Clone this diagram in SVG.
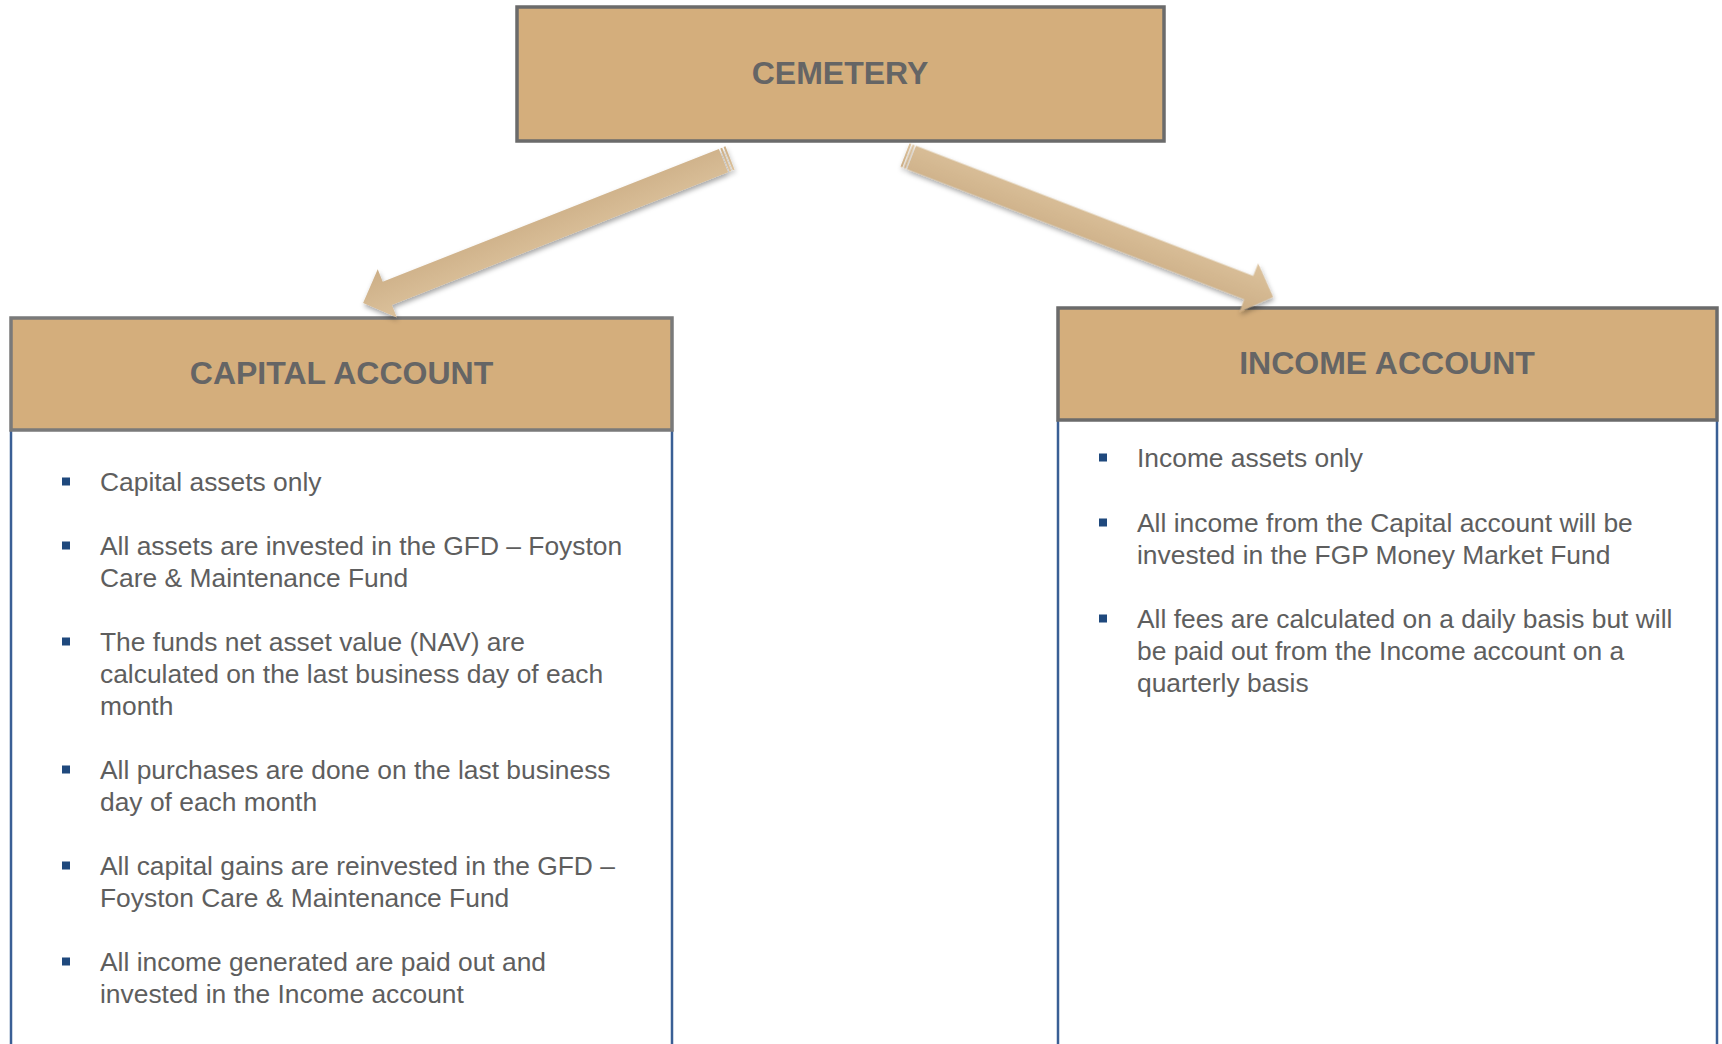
<svg xmlns="http://www.w3.org/2000/svg" width="1722" height="1044" viewBox="0 0 1722 1044">
<style>
.hdr{fill:#D4AE7C;stroke:#6B6B6B;stroke-width:3.5}
.ttl{font-family:"Liberation Sans",Arial,sans-serif;font-weight:bold;font-size:32px;fill:#656565;text-anchor:middle}
.txt{font-family:"Liberation Sans",Arial,sans-serif;font-size:26.4px;fill:#5E5E5E}
.bul{fill:#1F497D}
.side{stroke:#3A5F95;stroke-width:2.5;fill:none}
.arr{fill:url(#ag)}
</style>
<defs>
<linearGradient id="ag" x1="0" y1="0" x2="0" y2="1">
<stop offset="0" stop-color="#DCC29C"/>
<stop offset="1" stop-color="#CCAE86"/>
</linearGradient>
<filter id="sh" x="-10%" y="-30%" width="120%" height="160%">
<feDropShadow dx="1" dy="3" stdDeviation="2.5" flood-color="#000" flood-opacity="0.35"/>
</filter>
<g id="arrowShape">
<rect x="0" y="-12.5" width="2" height="25" class="arr"/>
<rect x="3.5" y="-12.5" width="2" height="25" class="arr"/>
<path d="M7,-12.5 H368.5 V-26 L394.5,0 L368.5,26 V12.5 H7 Z" class="arr"/>
</g>
</defs>
<rect width="1722" height="1044" fill="#FFFFFF"/>

<g id="cemetery">
<rect class="hdr" x="517" y="7" width="647" height="134"/>
<text class="ttl" x="840" y="84">CEMETERY</text>
</g>

<g id="capital-account">
<path class="side" d="M11,430 V1044 M672,430 V1044"/>
<rect class="hdr" x="11" y="318" width="661" height="112" style="stroke:#7A7A7A"/>
<text class="ttl" x="341.5" y="384">CAPITAL ACCOUNT</text>
<rect class="bul" x="62" y="477.5" width="8" height="8"/>
<text class="txt" x="100" y="491">Capital assets only</text>
<rect class="bul" x="62" y="541.5" width="8" height="8"/>
<text class="txt" x="100" y="555">All assets are invested in the GFD – Foyston</text>
<text class="txt" x="100" y="587">Care &amp; Maintenance Fund</text>
<rect class="bul" x="62" y="637.5" width="8" height="8"/>
<text class="txt" x="100" y="651">The funds net asset value (NAV) are</text>
<text class="txt" x="100" y="683">calculated on the last business day of each</text>
<text class="txt" x="100" y="715">month</text>
<rect class="bul" x="62" y="765.5" width="8" height="8"/>
<text class="txt" x="100" y="779">All purchases are done on the last business</text>
<text class="txt" x="100" y="811">day of each month</text>
<rect class="bul" x="62" y="861.5" width="8" height="8"/>
<text class="txt" x="100" y="875">All capital gains are reinvested in the GFD –</text>
<text class="txt" x="100" y="907">Foyston Care &amp; Maintenance Fund</text>
<rect class="bul" x="62" y="957.5" width="8" height="8"/>
<text class="txt" x="100" y="971">All income generated are paid out and</text>
<text class="txt" x="100" y="1003">invested in the Income account</text>
</g>

<g id="income-account">
<path class="side" d="M1058,420 V1044 M1717,420 V1044"/>
<rect class="hdr" x="1058" y="308" width="659" height="112"/>
<text class="ttl" x="1387" y="374">INCOME ACCOUNT</text>
<rect class="bul" x="1099" y="453.5" width="8" height="8"/>
<text class="txt" x="1137" y="467">Income assets only</text>
<rect class="bul" x="1099" y="518.5" width="8" height="8"/>
<text class="txt" x="1137" y="532">All income from the Capital account will be</text>
<text class="txt" x="1137" y="564">invested in the FGP Money Market Fund</text>
<rect class="bul" x="1099" y="614.5" width="8" height="8"/>
<text class="txt" x="1137" y="628">All fees are calculated on a daily basis but will</text>
<text class="txt" x="1137" y="660">be paid out from the Income account on a</text>
<text class="txt" x="1137" y="692">quarterly basis</text>
</g>

<g id="connectors" filter="url(#sh)">
<use href="#arrowShape" transform="translate(730,158) rotate(158.44)"/>
<use href="#arrowShape" transform="translate(905,155) rotate(21.1)"/>
</g>
</svg>
